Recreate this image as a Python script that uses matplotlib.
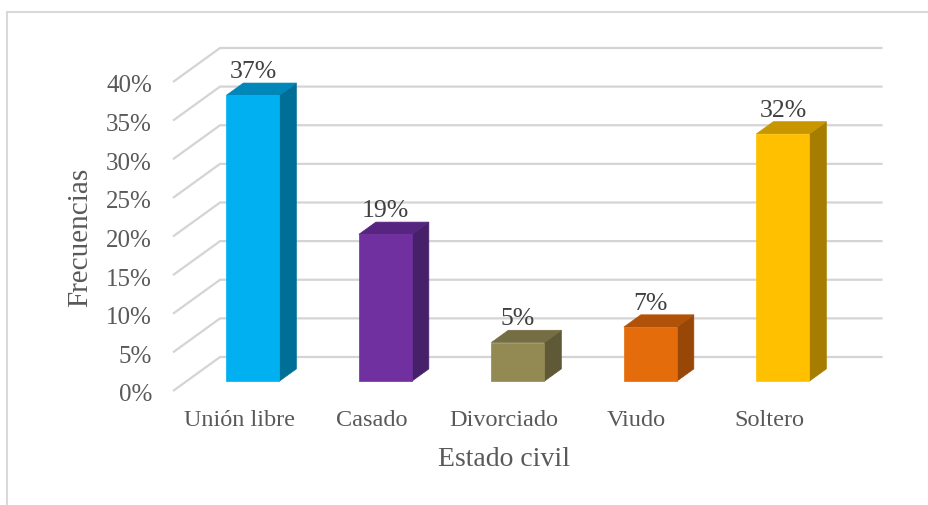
import matplotlib.pyplot as plt
from matplotlib.patches import Polygon
from matplotlib.lines import Line2D

categorias = ["Unión libre", "Casado", "Divorciado", "Viudo", "Soltero"]
valores = [37, 19, 5, 7, 32]
ticks_y = [0, 5, 10, 15, 20, 25, 30, 35, 40]

frente = ["#00B0F0", "#7030A0", "#938953", "#E46C0A", "#FFC000"]
lado = ["#006F97", "#47206A", "#5F5937", "#994706", "#A67D00"]
techo = ["#0086B8", "#57247F", "#756D43", "#B05308", "#C89700"]

plt.rcParams['font.family'] = ['Liberation Serif', 'DejaVu Serif']
gris = "#595959"
linea = "#D4D4D4"

# perspectiva: desplazamiento del fondo en unidades de datos
DX, DY = 0.355, 4.4
F0, F1 = 0.29, 0.65
ANCHO = 0.4


def proy(x, y, d):
    return (x + d * DX, y + d * DY)


fig = plt.figure(figsize=(9.29, 5.06), dpi=100)
ax = fig.add_axes([0, 0, 1, 1])
ax.set_xlim(-1.8057, 5.2057)
ax.set_ylim(-14.757, 50.74)
ax.axis('off')

# marco del gráfico
fig.add_artist(Line2D([7 / 929, 1], [1 - 13 / 506] * 2, color="#D9D9D9", lw=1.5,
                      transform=fig.transFigure))
fig.add_artist(Line2D([7 / 929] * 2, [0, 1 - 13 / 506], color="#D9D9D9", lw=1.5,
                      transform=fig.transFigure))

x0, x1 = -0.5, len(categorias) - 0.5
for v in ticks_y:
    a = proy(x0, v, 0)
    b = proy(x0, v, 1)
    c = proy(x1, v, 1)
    ax.plot([a[0], b[0], c[0]], [a[1], b[1], c[1]], color=linea, lw=1.6,
            solid_capstyle='butt', zorder=1)
    ax.text(x0 - 0.158, v - 0.45, f"{v}%", ha='right', va='center',
            fontsize=18, color=gris)

for i, v in enumerate(valores):
    xl, xr = i - ANCHO / 2, i + ANCHO / 2
    cara = [proy(xl, 0, F0), proy(xr, 0, F0), proy(xr, v, F0), proy(xl, v, F0)]
    costado = [proy(xr, 0, F0), proy(xr, 0, F1), proy(xr, v, F1), proy(xr, v, F0)]
    arriba = [proy(xl, v, F0), proy(xr, v, F0), proy(xr, v, F1), proy(xl, v, F1)]
    ax.add_patch(Polygon(costado, closed=True, facecolor=lado[i], edgecolor=lado[i],
                         lw=0.5, zorder=3))
    ax.add_patch(Polygon(arriba, closed=True, facecolor=techo[i], edgecolor=techo[i],
                         lw=0.5, zorder=3))
    ax.add_patch(Polygon(cara, closed=True, facecolor=frente[i], edgecolor=frente[i],
                         lw=0.5, zorder=4))
    cx, cy = proy(i, v, F1)
    ax.text(i + F0 * DX, cy + 1.55, f"{v}%", ha='center', va='center',
            fontsize=18.5, color="#404040", zorder=5)
    ax.text(i, -3.75, categorias[i], ha='center', va='center', fontsize=17.5, color=gris)

ax.text(-1.202, 20.06, "Frecuencias", rotation=90, ha='center', va='center',
        fontsize=21, color=gris)
ax.text(2, -8.8, "Estado civil", ha='center', va='center', fontsize=20, color=gris)

fig.savefig("out.png", dpi=100)
